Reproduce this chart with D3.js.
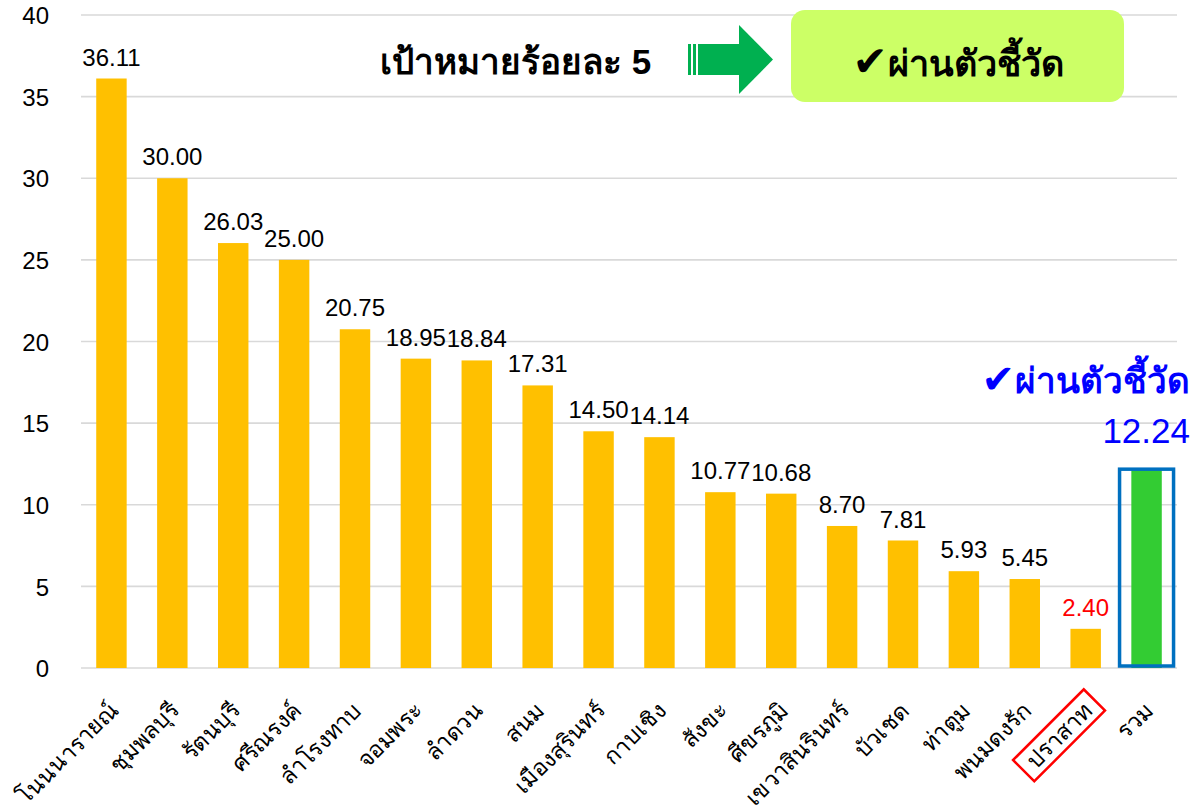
<!DOCTYPE html>
<html>
<head>
<meta charset="utf-8">
<script src="https://cdn.jsdelivr.net/npm/d3@7"></script>
<style>
  html, body { margin: 0; padding: 0; background: #fff; }
  svg { display: block; font-family: "Liberation Sans", "Noto Sans", "DejaVu Sans", sans-serif; }
</style>
</head>
<body>
<svg id="chart" width="1194" height="812"></svg>
<script>
// ---- data ----
const categories = ["โนนนารายณ์", "ชุมพลบุรี", "รัตนบุรี", "ศรีณรงค์", "ลำโรงทาบ", "จอมพระ", "ลำดวน", "สนม",
  "เมืองสุรินทร์", "กาบเชิง", "สังขะ", "ศีขรภูมิ", "เขวาสินรินทร์", "บัวเชด", "ท่าตูม", "พนมดงรัก", "ปราสาท", "รวม"];
const values = [36.11, 30.00, 26.03, 25.00, 20.75, 18.95, 18.84, 17.31, 14.50, 14.14, 10.77, 10.68, 8.70, 7.81, 5.93, 5.45, 2.40, 12.24];
const yTicks = [0, 5, 10, 15, 20, 25, 30, 35, 40];
const targetValue = 5;
const totalCategory = "รวม";
const failCategory = "ปราสาท";
const targetText = "เป้าหมายร้อยละ " + targetValue;
const passText = "ผ่านตัวชี้วัด";

// ---- layout ----
const svg = d3.select("#chart");
const x = d3.scaleBand().domain(categories).range([81, 1177]).paddingInner(0.5).paddingOuter(0.25);
const y = d3.scaleLinear().domain([0, 40]).range([668, 15]);

// gridlines
svg.append("g").selectAll("line").data(yTicks).join("line")
  .attr("x1", 81).attr("x2", 1177)
  .attr("y1", d => y(d)).attr("y2", d => y(d))
  .attr("stroke", "#d9d9d9").attr("stroke-width", 1.6);

// y axis labels
const yAxis = d3.axisLeft(y).tickValues(yTicks).tickSize(0).tickPadding(0);
const yg = svg.append("g").attr("transform", "translate(49,0)").call(yAxis);
yg.select(".domain").remove();
yg.selectAll("text").attr("font-size", 24).attr("fill", "#000")
  .attr("font-family", "'Liberation Sans', sans-serif").attr("dy", "0.36em");

const data = categories.map((c, i) => ({ c, v: values[i] }));

// bars
svg.append("g").selectAll("rect").data(data).join("rect")
  .attr("x", d => x(d.c)).attr("width", x.bandwidth())
  .attr("y", d => y(d.v)).attr("height", d => y(0) - y(d.v))
  .attr("fill", d => d.c === totalCategory ? "#33cc33" : "#ffc000");

// total highlight box
const tot = data.find(d => d.c === totalCategory);
const tc = x(tot.c) + x.bandwidth() / 2;
svg.append("rect")
  .attr("x", tc - 27).attr("width", 54)
  .attr("y", y(tot.v) + 1).attr("height", y(0) - y(tot.v) - 3)
  .attr("fill", "none").attr("stroke", "#0070c0").attr("stroke-width", 3.5);

// value labels (not for total)
svg.append("g").selectAll("text").data(data.filter(d => d.c !== totalCategory)).join("text")
  .attr("x", d => x(d.c) + x.bandwidth() / 2)
  .attr("y", d => y(d.v) - 13)
  .attr("text-anchor", "middle")
  .attr("font-size", 24)
  .attr("fill", d => d.c === failCategory ? "#ff0000" : "#000")
  .text(d => d.v.toFixed(2));

// x labels
const xl = svg.append("g").selectAll("g").data(data).join("g")
  .attr("transform", d => `translate(${x(d.c) + x.bandwidth() / 2 + 8},712) rotate(-45)`);
xl.append("text")
  .attr("text-anchor", "end")
  .attr("font-size", 23)
  .attr("fill", "#000")
  .text(d => d.c);

// red box around failing district
xl.filter(d => d.c === failCategory).each(function () {
  const t = d3.select(this).select("text").node().getBBox();
  d3.select(this).insert("rect", "text")
    .attr("x", t.x - 9).attr("y", t.y - 2)
    .attr("width", t.width + 18).attr("height", t.height + 4)
    .attr("fill", "none").attr("stroke", "#ff0000").attr("stroke-width", 2.5);
});

// total annotation
const passBlue = svg.append("text")
  .attr("x", 1190).attr("y", 393).attr("text-anchor", "end")
  .attr("font-weight", "bold").attr("fill", "#0000ff");
passBlue.append("tspan").attr("font-size", 40).text("✔");
passBlue.append("tspan").attr("font-size", 35).text(passText);
svg.append("text")
  .attr("x", 1190).attr("y", 443).attr("text-anchor", "end")
  .attr("font-size", 35).attr("fill", "#0000ff")
  .text(tot.v.toFixed(2));

// top banner: target text
svg.append("text")
  .attr("x", 380).attr("y", 74)
  .attr("font-size", 35).attr("font-weight", "bold").attr("fill", "#000")
  .text(targetText);

// arrow
const ag = svg.append("g").attr("fill", "#00b050");
ag.append("rect").attr("x", 688).attr("y", 44).attr("width", 3).attr("height", 31);
ag.append("rect").attr("x", 693).attr("y", 44).attr("width", 3).attr("height", 31);
ag.append("rect").attr("x", 698).attr("y", 44).attr("width", 42).attr("height", 31);
ag.append("path").attr("d", "M739,25 L773,59.5 L739,94 Z");

// pass box
svg.append("rect")
  .attr("x", 791).attr("y", 10).attr("width", 333).attr("height", 92).attr("rx", 14)
  .attr("fill", "#ccff66");
const passTop = svg.append("text")
  .attr("x", 958).attr("y", 76).attr("text-anchor", "middle")
  .attr("font-weight", "bold").attr("fill", "#000");
passTop.append("tspan").attr("font-size", 42).text("✔");
passTop.append("tspan").attr("font-size", 36).text(passText);
</script>
</body>
</html>
